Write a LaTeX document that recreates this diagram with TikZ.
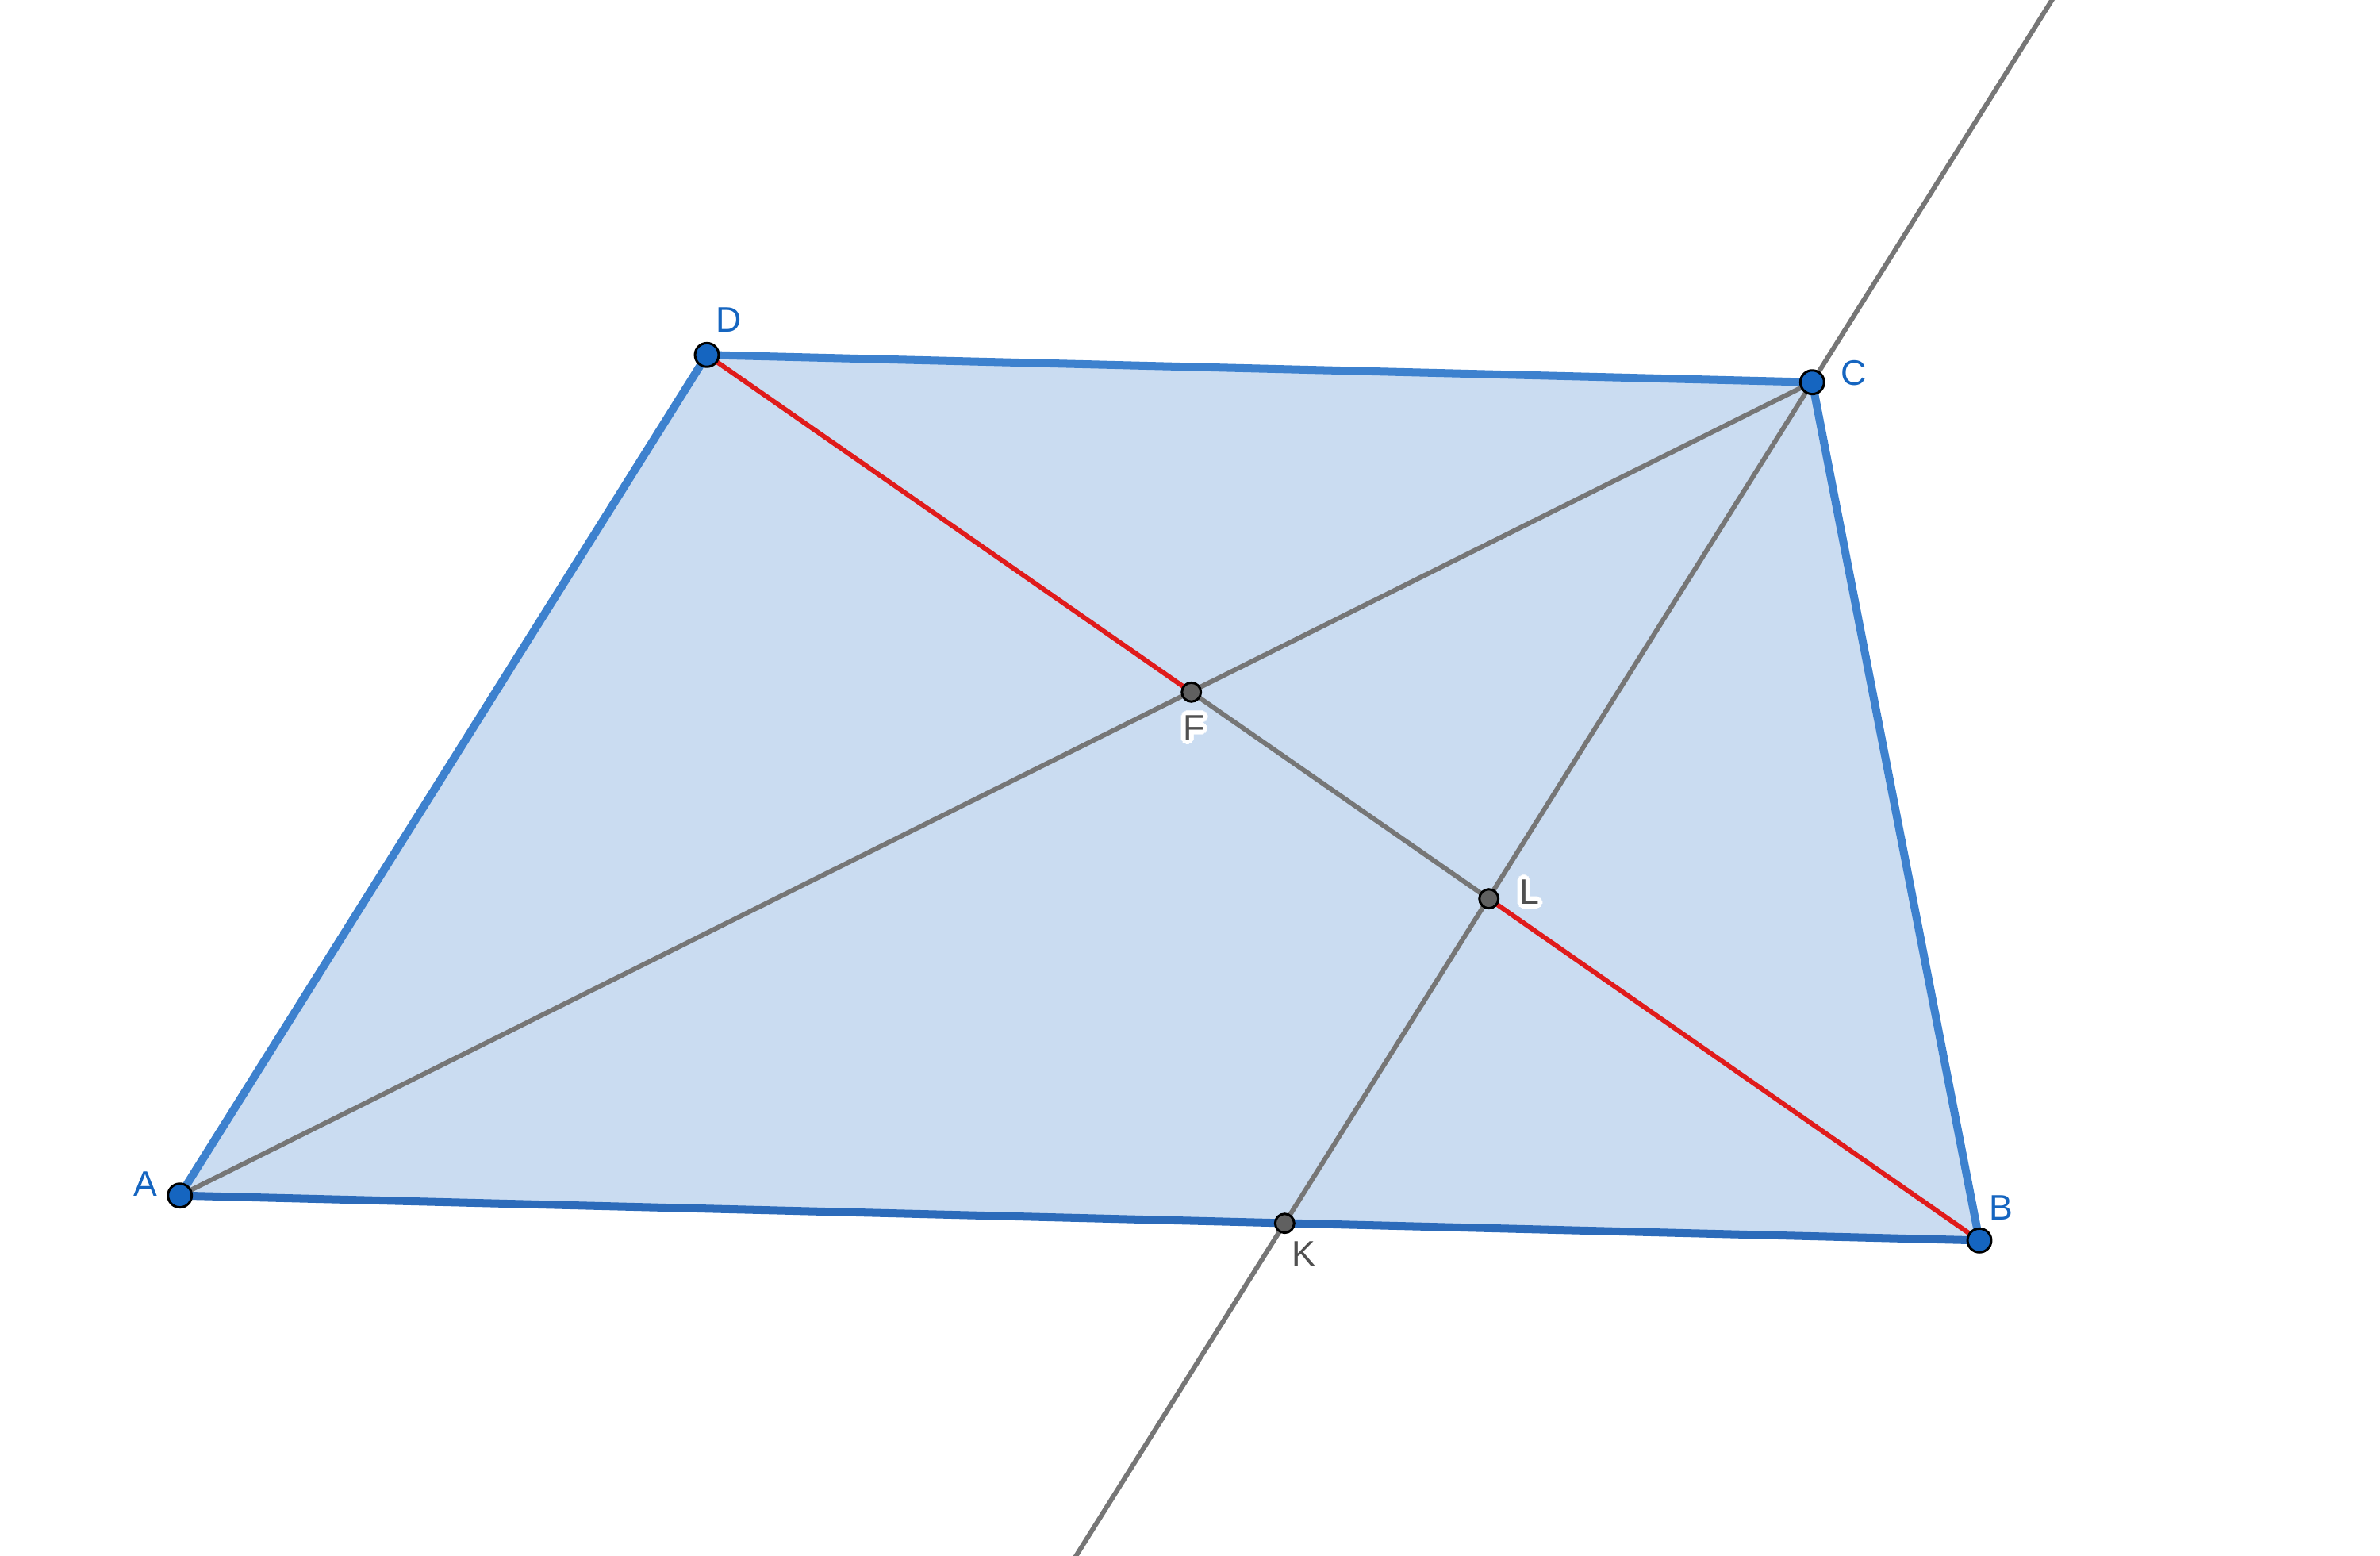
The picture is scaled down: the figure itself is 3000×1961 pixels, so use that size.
\documentclass[tikz,border=0pt]{standalone}
\usepackage{fontspec}
\setmainfont{Liberation Sans}
\usepackage{contour}
\contourlength{1.6pt}
\usetikzlibrary{calc}
\definecolor{polyfill}{HTML}{CADCF1}
\definecolor{edgeblue}{HTML}{3D81CE}
\definecolor{edgedark}{HTML}{2C6BBA}
\definecolor{ptblue}{HTML}{1565C0}
\definecolor{linegray}{HTML}{767676}
\definecolor{segred}{HTML}{E01B1B}
\definecolor{ptgray}{HTML}{606060}
\definecolor{labgray}{HTML}{505050}
\tikzset{
  edge/.style={draw=edgeblue, line width=2.85pt, line cap=round, line join=round},
  edgeab/.style={draw=edgedark, line width=2.85pt, line cap=round},
  grayline/.style={draw=linegray, line width=1.7pt},
  redseg/.style={draw=segred, line width=1.7pt},
  bpt/.style={circle, fill=ptblue, draw=black, line width=0.85pt, minimum size=8.5pt, inner sep=0pt},
  gpt/.style={circle, fill=ptgray, draw=black, line width=0.85pt, minimum size=6.8pt, inner sep=0pt},
  blab/.style={text=ptblue, font=\fontsize{12.7pt}{14pt}\selectfont, inner sep=0pt},
  glab/.style={text=labgray, font=\fontsize{12.7pt}{14pt}\selectfont, inner sep=0pt}
}
\begin{document}
\begin{tikzpicture}[x=0.01cm, y=-0.01cm]
\clip (0,0) rectangle (3000,1961);
\fill[white] (0,0) rectangle (3000,1961);
\coordinate (A) at (226.7,1506.7);
\coordinate (B) at (2495,1563.3);
\coordinate (C) at (2284.3,481.7);
\coordinate (D) at (891,447.3);
\coordinate (F) at (1501.7,872.3);
\coordinate (L) at (1876.7,1132.7);
\coordinate (K) at (1619.3,1541.7);
\coordinate (T) at ($(C)!-0.47!(K)$);
\coordinate (E) at ($(C)!1.42!(K)$);
% polygon
\fill[polyfill] (A) -- (B) -- (C) -- (D) -- cycle;
% lines
\draw[grayline] (A) -- (C);
\draw[grayline] (T) -- (C) -- (K) -- (E);
\draw[grayline] (F) -- (L);
\draw[redseg] (D) -- (F);
\draw[redseg] (L) -- (B);
% edges
\draw[edge] (B) -- (C) -- (D) -- (A);
\draw[edgeab] (A) -- (B);
% points
\node[bpt] (pA) at (A) {};
\node[bpt] (pB) at (B) {};
\node[bpt] (pC) at (C) {};
\node[bpt] (pD) at (D) {};
\node[gpt] (pF) at (F) {};
\node[gpt] (pL) at (L) {};
\node[gpt] (pK) at (K) {};
% labels
\node[blab] (lA) at (183,1492) {A};
\node[blab] (lB) at (2522,1522) {B};
\node[blab] (lC) at (2337,470) {C};
\node[blab] (lD) at (919,403) {D};
\node[glab] (lF) at (1505,920) {\contour{white}{F}};
\node[glab] (lL) at (1928,1127) {\contour{white}{L}};
\node[glab] (lK) at (1643,1580) {K};
\end{tikzpicture}
\end{document}
